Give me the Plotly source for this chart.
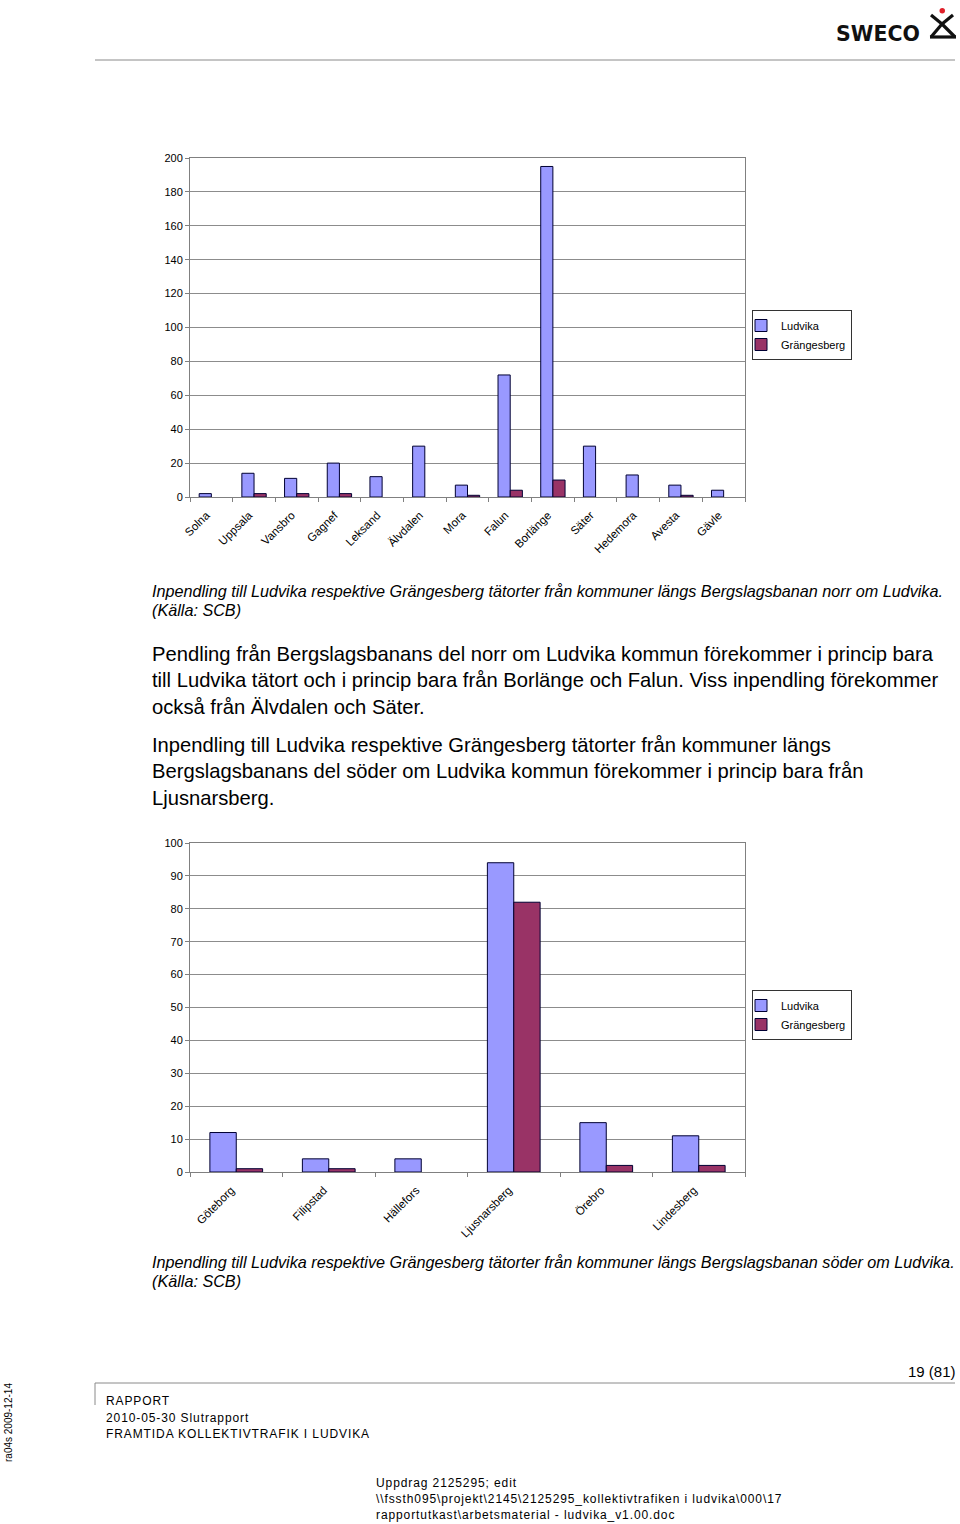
import plotly.graph_objects as go

W, H = 960, 1524

# ---------------- data ----------------
north_towns = ["Solna", "Uppsala", "Vansbro", "Gagnef", "Leksand", "Älvdalen", "Mora",
               "Falun", "Borlänge", "Säter", "Hedemora", "Avesta", "Gävle"]
north_ludvika = [2, 14, 11, 20, 12, 30, 7, 72, 195, 30, 13, 7, 4]
north_grangesberg = [None, 2, 2, 2, None, None, 1, 4, 10, None, None, 1, None]

south_towns = ["Göteborg", "Filipstad", "Hällefors", "Ljusnarsberg", "Örebro", "Lindesberg"]
south_ludvika = [12, 4, 4, 94, 15, 11]
south_grangesberg = [1, 1, None, 82, 2, 2]

series_names = ["Ludvika", "Grängesberg"]
series_colors = ["#9999FF", "#993366"]

north_yticks = list(range(0, 201, 20))
south_yticks = list(range(0, 101, 10))


def px(x):
    return x / W


def py(y):
    return 1 - y / H


FONT = "Liberation Sans, Arial, sans-serif"

fig = go.Figure()

for name, vals, col in zip(series_names, [north_ludvika, north_grangesberg], series_colors):
    fig.add_trace(go.Bar(x=north_towns, y=vals, name=name, marker_color=col,
                         marker_line=dict(color="#000033", width=1),
                         xaxis="x", yaxis="y", legend="legend"))

for name, vals, col in zip(series_names, [south_ludvika, south_grangesberg], series_colors):
    fig.add_trace(go.Bar(x=south_towns, y=vals, name=name, marker_color=col,
                         marker_line=dict(color="#000033", width=1),
                         xaxis="x2", yaxis="y2", legend="legend2"))

axis_common_x = dict(showline=True, linecolor="#808080", linewidth=1, mirror=True,
                     ticks="outside", ticklen=4, tickcolor="#808080", tickson="boundaries",
                     tickangle=-45, tickfont=dict(family=FONT, size=11.5, color="#000"),
                     ticklabelstandoff=6, ticklabelshift=-5,
                     showgrid=False, fixedrange=True, automargin=False)
axis_common_y = dict(showline=True, linecolor="#808080", linewidth=1, mirror=True,
                     ticks="outside", ticklen=4, tickcolor="#808080", showgrid=True,
                     gridcolor="#8c8c8c", gridwidth=1, zeroline=False, automargin=False,
                     tickfont=dict(family=FONT, size=11, color="#000"), fixedrange=True)

legend_common = dict(xanchor="left", yanchor="top", bordercolor="#333", borderwidth=1,
                     bgcolor="white", font=dict(family=FONT, size=11, color="#000"),
                     itemwidth=30, tracegroupgap=0, indentation=-12)

fig.update_layout(
    template="none",
    width=W, height=H, autosize=False,
    margin=dict(l=0, r=0, t=0, b=0, pad=0, autoexpand=False),
    paper_bgcolor="white", plot_bgcolor="white",
    barmode="group", bargap=0.43, bargroupgap=0,
    font=dict(family=FONT, color="#000"),
    xaxis=dict(domain=[px(190), px(745)], anchor="y", **axis_common_x),
    yaxis=dict(domain=[py(497), py(158)], anchor="x", range=[0, 200],
               tickvals=north_yticks, **axis_common_y),
    xaxis2=dict(domain=[px(190), px(745)], anchor="y2", **axis_common_x),
    yaxis2=dict(domain=[py(1172), py(843)], anchor="x2", range=[0, 100],
                tickvals=south_yticks, **axis_common_y),
    legend=dict(x=px(752), y=py(310), **legend_common),
    legend2=dict(x=px(752), y=py(990), **legend_common),
    showlegend=True,
)

ann = []
spaced = []


def text(x, y, s, size, xanchor="left", yanchor="middle", italic=False, angle=0,
         color="#000", family=FONT, letter_spacing=None):
    if letter_spacing is not None:
        spaced.append((len(ann), letter_spacing))
    ann.append(dict(x=px(x), y=py(y), xref="paper", yref="paper", text=s, showarrow=False,
                    xanchor=xanchor, yanchor=yanchor, align="left", textangle=angle,
                    font=dict(family=family, size=size, color=color,
                              style="italic" if italic else "normal")))


text(150, 591, "Inpendling till Ludvika respektive Grängesberg tätorter från kommuner längs "
     "Bergslagsbanan norr om Ludvika.", 16.2, italic=True)
text(150, 610, "(Källa: SCB)", 16.2, italic=True)
text(150, 680, "Pendling från Bergslagsbanans del norr om Ludvika kommun förekommer i princip bara<br>"
     "till Ludvika tätort och i princip bara från Borlänge och Falun. Viss inpendling förekommer<br>"
     "också från Älvdalen och Säter.", 20.2)
text(150, 772, "Inpendling till Ludvika respektive Grängesberg tätorter från kommuner längs<br>"
     "Bergslagsbanans del söder om Ludvika kommun förekommer i princip bara från<br>"
     "Ljusnarsberg.", 20.2)
text(150, 1262, "Inpendling till Ludvika respektive Grängesberg tätorter från kommuner längs "
     "Bergslagsbanan söder om Ludvika.", 16.2, italic=True)
text(150, 1281, "(Källa: SCB)", 16.2, italic=True)

# header logo text
ann.append(dict(x=px(922), y=py(34), xref="paper", yref="paper", text="<b>SWECO</b>",
                showarrow=False, xanchor="right", yanchor="middle",
                font=dict(family="DejaVu Sans, sans-serif", size=20.5, color="#111")))

# footer
text(958, 1371, "19 (81)", 15, xanchor="right")
text(104, 1401, "RAPPORT", 12, letter_spacing=0.9)
text(104, 1418, "2010-05-30 Slutrapport", 12, letter_spacing=0.9)
text(104, 1434, "FRAMTIDA KOLLEKTIVTRAFIK I LUDVIKA", 12, letter_spacing=0.9)
text(374, 1483, "Uppdrag 2125295; edit", 12, letter_spacing=0.9)
text(374, 1499, "\\\\fssth095\\projekt\\2145\\2125295_kollektivtrafiken i ludvika\\000\\17", 12,
     letter_spacing=0.9)
text(374, 1515, "rapportutkast\\arbetsmaterial - ludvika_v1.00.doc", 12, letter_spacing=0.9)
text(8, 1423, "ra04s 2009-12-14", 10, xanchor="center", angle=-90)

fig.update_layout(annotations=ann)

shapes = []


def line(x0, y0, x1, y1, color="#808080", width=1):
    shapes.append(dict(type="line", xref="paper", yref="paper", x0=px(x0), y0=py(y0),
                       x1=px(x1), y1=py(y1), line=dict(color=color, width=width)))


line(95, 60, 955, 60, "#8a8a8a", 1)
line(95, 1383, 955, 1383, "#8a8a8a", 1)
line(95, 1383, 95, 1405, "#8a8a8a", 1)

# logo symbol
line(931, 15, 942, 24, "#111", 3.2)
line(953, 15, 942, 24, "#111", 3.2)
line(942, 24, 931, 37, "#111", 3.2)
line(942, 24, 955, 37, "#111", 3.2)
line(930, 37, 956, 37, "#111", 3.2)
shapes.append(dict(type="circle", xref="paper", yref="paper",
                   x0=px(939.5), y0=py(8), x1=px(945), y1=py(13.5),
                   fillcolor="#e0202a", line=dict(width=0)))

fig.update_layout(shapes=shapes)

post = "var gd=document.getElementById('{plot_id}');" \
       "var sp=" + str([[i, s] for i, s in spaced]) + ";" \
       "function applyLS(){sp.forEach(function(p){" \
       "var g=gd.querySelector('g.annotation[data-index=\"'+p[0]+'\"] text');" \
       "if(g){g.style.letterSpacing=p[1]+'px';}});}" \
       "applyLS(); gd.on('plotly_afterplot', applyLS);"

fig.write_html("out.html", post_script=post)
